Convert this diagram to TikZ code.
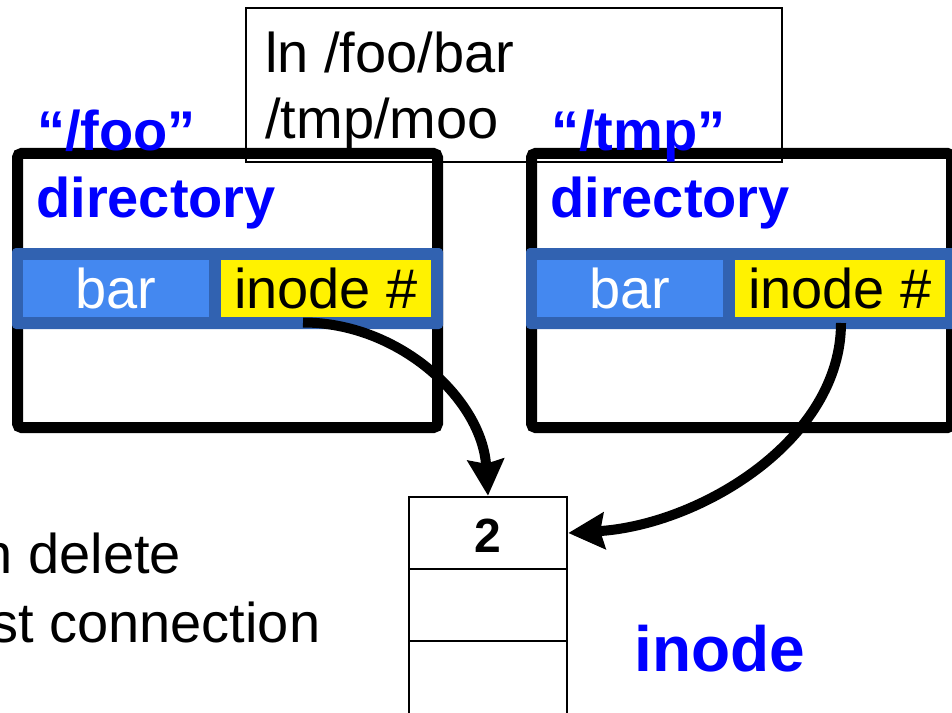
\documentclass[tikz,border=0pt]{standalone}
\usepackage{fontspec}
\setmainfont{Liberation Sans}
\usetikzlibrary{arrows.meta}
\definecolor{bandblue}{RGB}{49,98,177}
\definecolor{cellblue}{RGB}{68,136,240}
\definecolor{lblue}{RGB}{0,0,255}
\newcommand\fbig{\fontsize{42}{50}\selectfont}
\begin{document}
\begin{tikzpicture}[x=0.75pt,y=-0.75pt,
  dirline/.style={draw=black, line width=8.25pt, rounded corners=3pt},
  bandrow/.style={fill=bandblue, rounded corners=3pt},
  namecell/.style={fill=cellblue, minimum width=139.5pt, minimum height=42.75pt,
    inner sep=0pt, text height=29.25pt, text depth=0pt, text=white, font=\fbig},
  numcell/.style={fill=yellow, minimum width=157.5pt, minimum height=42.75pt,
    inner sep=0pt, text height=29.25pt, text depth=0pt, text=black, font=\fbig},
  txt/.style={inner sep=0pt, anchor=base west, font=\fbig},
  bluelbl/.style={inner sep=0pt, anchor=base west, text=lblue, font=\fbig\bfseries},
  icell/.style={draw=black, line width=1.9pt, minimum width=118.5pt, inner sep=0pt},
  arrowline/.style={line width=7.5pt, -{Stealth[length=27pt,width=27pt,inset=3pt]}}
]
\useasboundingbox (0,0) rectangle (952,713);

% command box
\node[draw=black, line width=1.1pt, minimum width=402pt, minimum height=115.5pt, inner sep=0pt] (cmd) at (514,85) {};
\node[txt] (cmd1) at (265,73) {ln /foo/bar};
\node[txt] (cmd2) at (265,138) {/tmp/moo};

% left directory
\draw[dirline] (17.5,153.5) rectangle (437.5,427.5);
\fill[bandrow] (12,248) rectangle (443,329);
\node[namecell] (barA) at (116,288.5) {bar};
\node[numcell] (numA) at (326,288.5) {inode \#};
\node[bluelbl] (fooLbl) at (37,151) {“/foo”};
\node[bluelbl] (dirA) at (36,217) {directory};

% right directory
\draw[dirline] (531.5,153.5) rectangle (951.5,427.5);
\fill[bandrow] (526,248) rectangle (960,329);
\node[namecell] (barB) at (630,288.5) {bar};
\node[numcell] (numB) at (840,288.5) {inode \#};
\node[bluelbl] (tmpLbl) at (551,151) {“/tmp”};
\node[bluelbl] (dirB) at (550,217) {directory};

% inode
\node[icell, minimum height=54pt, text height=28.5pt, text depth=0pt,
  font=\fontsize{36}{42}\selectfont\bfseries] (i1) at (488,533) {2};
\node[icell, minimum height=54pt] (i2) at (488,605) {};
\node[icell, minimum height=57pt] (i3) at (488,679) {};
\node[inner sep=0pt, anchor=base west, text=lblue,
  font=\fontsize{48}{56}\selectfont\bfseries] (inodeLbl) at (634,671) {inode};

% left text
\node[txt] (t1) at (-18.6,573) {n delete};
\node[txt] (t2) at (-10,642) {st connection};

% arrows
\coordinate (sA) at (303,322.5);
\coordinate (sB) at (841,323);
\draw[arrowline] (sA) .. controls (400,322.5) and (482,400) .. (i1.north);
\draw[arrowline] (sB) .. controls (841,440) and (700,525) .. (i1.east);
\end{tikzpicture}
\end{document}
